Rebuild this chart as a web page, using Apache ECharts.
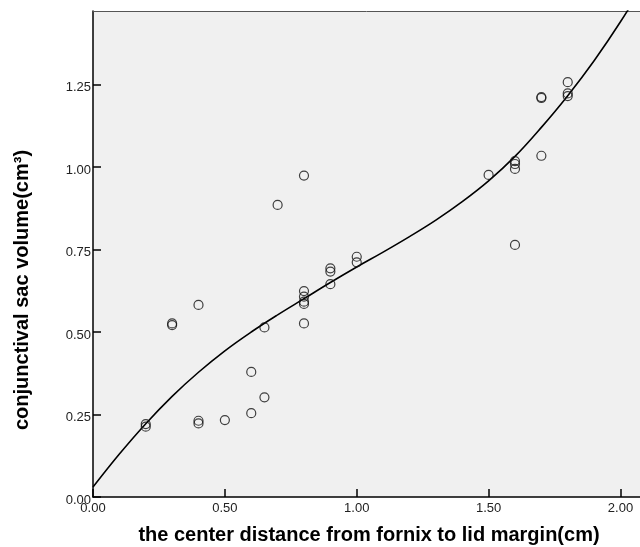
<!DOCTYPE html>
<html>
<head>
<meta charset="utf-8">
<style>
html,body{margin:0;padding:0;background:#fff;}
#chart{width:640px;height:547px;}
</style>
<script src="https://cdn.jsdelivr.net/npm/echarts@6/dist/echarts.min.js"></script>
</head>
<body>
<div id="chart"></div>
<script>
// Observed points: distance (cm) and volume (cm³)
const distX = [0.2,0.2, 0.3,0.3, 0.4,0.4,0.4, 0.5, 0.6,0.6, 0.65,0.65, 0.7,
  0.8,0.8,0.8,0.8,0.8,0.8, 0.9,0.9,0.9, 1.0,1.0, 1.5, 1.6,1.6,1.6,1.6,
  1.7,1.7,1.7, 1.8,1.8,1.8];
const volY = [0.221,0.213, 0.526,0.521, 0.582,0.231,0.223, 0.233, 0.379,0.254, 0.514,0.302, 0.885,
  0.974,0.624,0.607,0.592,0.585,0.526, 0.693,0.683,0.645, 0.728,0.711, 0.976, 1.018,1.009,0.994,0.764,
  1.212,1.209,1.034, 1.257,1.223,1.215];
// Fit curve
const curveX = [0,0.1,0.2,0.3,0.4,0.5,0.6,0.7,0.8,0.9,1.0,1.1,1.2,1.3,1.4,1.5,1.6,1.7,1.8,1.9,2.0,2.1];
const curveY = [0.030,0.130,0.222,0.305,0.378,0.443,0.500,0.552,0.601,0.650,0.697,0.742,0.789,0.839,0.895,0.958,1.032,1.120,1.216,1.322,1.440,1.570];
// Tick labels
const xTicks = [0, 0.5, 1.0, 1.5, 2.0];
const yTicks = [0, 0.25, 0.5, 0.75, 1.0, 1.25];
const xTitle = 'the center distance from fornix to lid margin(cm)';
const yTitle = 'conjunctival sac volume(cm³)';

const chart = echarts.init(document.getElementById('chart'));
const labelFont = {fontFamily:'Liberation Sans, Arial, sans-serif', fontSize:13, color:'#222'};
const titleFont = 'bold 20px "Liberation Sans", Arial, sans-serif';
const X_MAX = 2.074, Y_MAX = 1.4727;
chart.setOption({
  animation:false,
  grid:{left:93, top:11, height:486, right:0, show:true, backgroundColor:'#f0f0f0', borderWidth:0},
  xAxis:[{type:'value', min:0, max:X_MAX,
    axisLine:{show:true, onZero:false, lineStyle:{color:'#000', width:1.5}},
    axisTick:{show:true, inside:true, length:8, customValues:xTicks, lineStyle:{color:'#000', width:1.5}},
    splitLine:{show:false},
    axisLabel:Object.assign({margin:5, customValues:xTicks, formatter:v=>v.toFixed(2)}, labelFont)},
   {type:'value', position:'top', min:0, max:X_MAX,
    axisLine:{show:true, onZero:false, lineStyle:{color:'#555', width:1}},
    axisTick:{show:false}, axisLabel:{show:false}, splitLine:{show:false}}],
  yAxis:{type:'value', min:0, max:Y_MAX,
    axisLine:{show:true, onZero:false, lineStyle:{color:'#000', width:1.5}},
    axisTick:{show:true, inside:true, length:8, customValues:yTicks, lineStyle:{color:'#000', width:1.5}},
    splitLine:{show:false},
    axisLabel:Object.assign({margin:2, customValues:yTicks, verticalAlign:'top', lineHeight:6, formatter:v=>v.toFixed(2)}, labelFont)},
  graphic:[
    {type:'text', x:369, y:535, style:{text:xTitle, font:titleFont, fill:'#000', align:'center', verticalAlign:'middle'}},
    {type:'text', rotation:Math.PI/2, x:22, y:290, style:{text:yTitle, font:titleFont, fill:'#000', align:'center', verticalAlign:'middle'}}
  ],
  series:[
    {type:'line', data:curveX.map((x,i)=>[x,curveY[i]]), smooth:0.4, showSymbol:false, symbol:'none',
     lineStyle:{color:'#000', width:1.6}, z:3, clip:true},
    {type:'scatter', data:distX.map((x,i)=>[x,volY[i]]), symbol:'circle', symbolSize:9,
     itemStyle:{color:'rgba(0,0,0,0)', borderColor:'#111', borderWidth:1.2}, z:4}
  ]
});
</script>
</body>
</html>
